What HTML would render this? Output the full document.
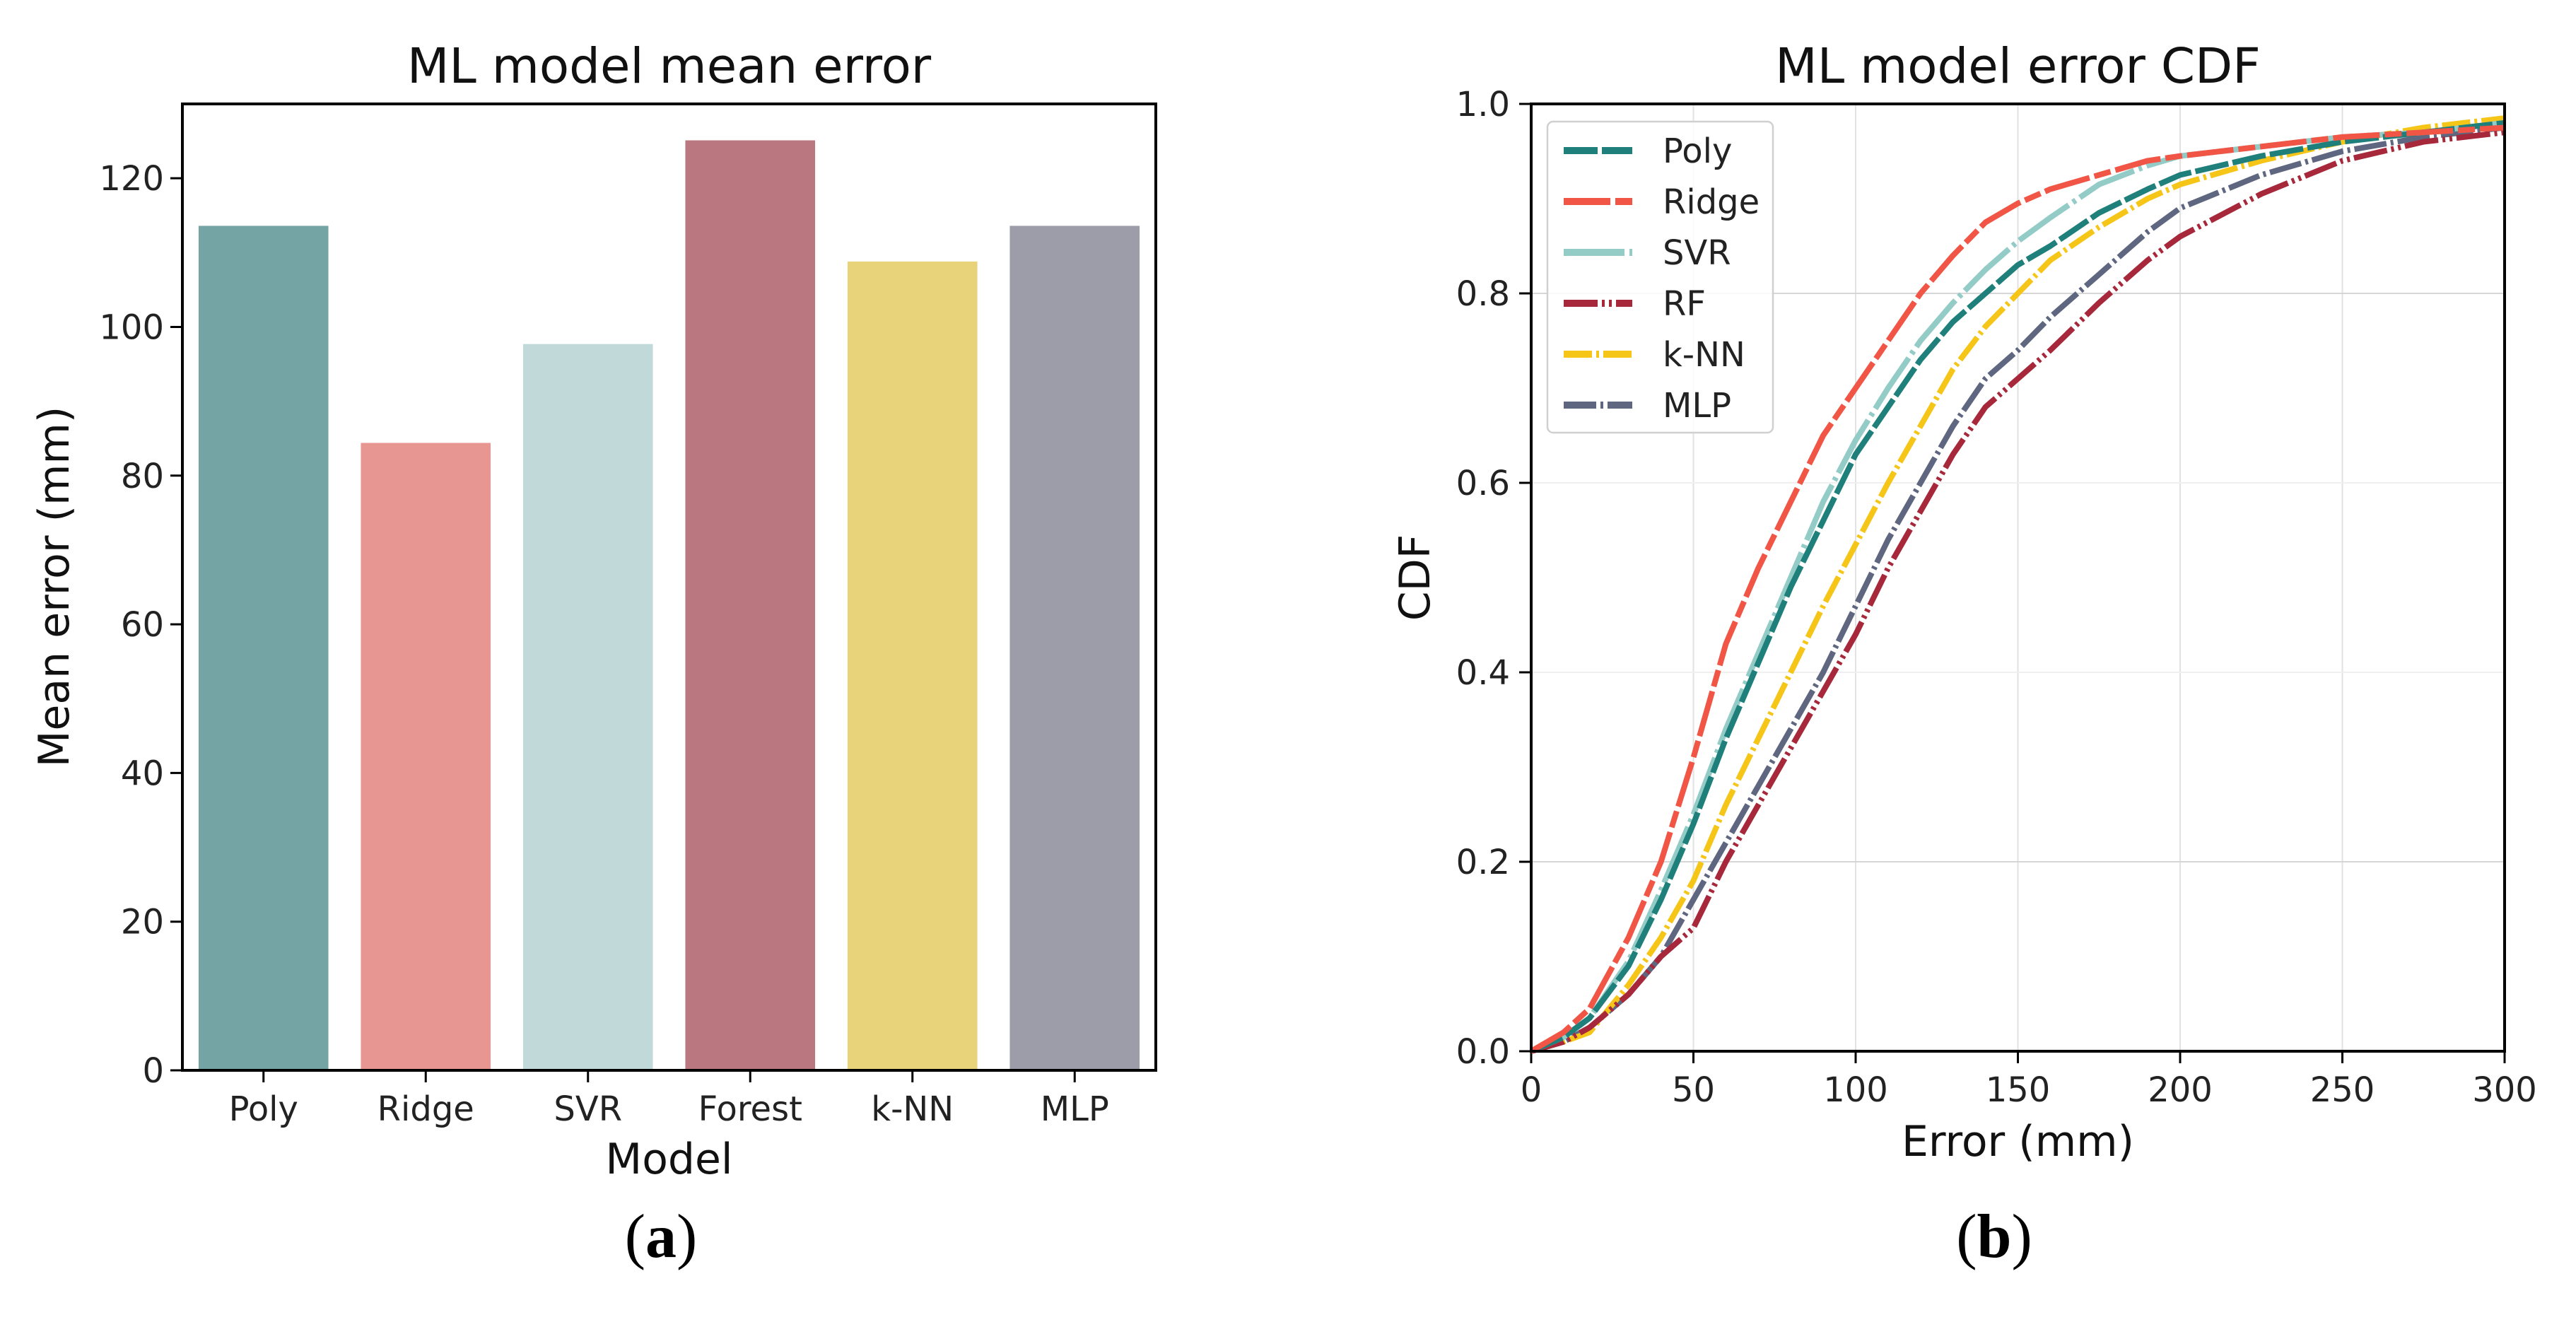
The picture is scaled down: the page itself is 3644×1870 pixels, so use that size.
<!DOCTYPE html>
<html><head><meta charset="utf-8">
<style>
html,body{margin:0;padding:0;background:#fff;}
svg{display:block;font-family:"DejaVu Sans","Liberation Sans",sans-serif;}
</style></head>
<body>
<svg id="fig" width="3644" height="1870" viewBox="0 0 3644 1870">
<g id="left"></g>
<g id="right"></g>
</svg>
<script>
// ---- bar chart data ----
const barCategories = ["Poly","Ridge","SVR","Forest","k-NN","MLP"];
const barValues = [113.6, 84.4, 97.7, 125.1, 108.8, 113.6];
const barColors = ["#74a5a4","#e89691","#c1dad9","#bb7780","#e8d27a","#9c9da8"];
const barYTicks = [0,20,40,60,80,100,120];

// ---- CDF data ----
const cdfSeriesNames = ["Poly","Ridge","SVR","RF","k-NN","MLP"];
const cdfX = [0,10,18,30,40,50,60,70,80,90,100,110,120,130,140,150,160,175,190,200,225,250,275,300];
const cdfPoly  = [0,0.015,0.035,0.09,0.16,0.24,0.33,0.41,0.49,0.56,0.63,0.68,0.73,0.77,0.80,0.83,0.85,0.885,0.91,0.925,0.945,0.96,0.97,0.98];
const cdfRidge = [0,0.02,0.045,0.12,0.20,0.31,0.43,0.51,0.58,0.65,0.70,0.75,0.80,0.84,0.875,0.895,0.91,0.925,0.94,0.945,0.955,0.965,0.97,0.975];
const cdfSVR   = [0,0.015,0.035,0.095,0.17,0.25,0.34,0.42,0.50,0.58,0.645,0.70,0.75,0.79,0.825,0.855,0.88,0.915,0.935,0.945,0.955,0.965,0.97,0.98];
const cdfRF    = [0,0.01,0.025,0.06,0.10,0.13,0.20,0.26,0.32,0.38,0.44,0.51,0.57,0.63,0.68,0.71,0.74,0.79,0.835,0.86,0.905,0.94,0.96,0.97];
const cdfKNN   = [0,0.01,0.02,0.07,0.12,0.18,0.26,0.33,0.40,0.47,0.535,0.60,0.66,0.72,0.765,0.80,0.835,0.87,0.90,0.915,0.94,0.96,0.975,0.985];
const cdfMLP   = [0,0.01,0.025,0.06,0.10,0.16,0.22,0.28,0.34,0.40,0.47,0.54,0.60,0.66,0.71,0.74,0.775,0.82,0.865,0.89,0.925,0.95,0.965,0.975];
const cdfXTicks = [0,50,100,150,200,250,300];
const cdfYTicks = [0.0,0.2,0.4,0.6,0.8,1.0];

const NS="http://www.w3.org/2000/svg";
function mk(parent,tag,attrs,text){const e=document.createElementNS(NS,tag);for(const k in attrs)e.setAttribute(k,attrs[k]);if(text!==undefined)e.textContent=text;parent.appendChild(e);return e;}

// ===== Left bar chart =====
(function(){
const g=document.getElementById('left');
const L=258,R=1635,T=147,B=1514,yMax=130;
const ys=v=>B-(v/yMax)*(B-T);
const band=(R-L)/barCategories.length;
barCategories.forEach((c,i)=>{
  const x0=L+band*i+band*0.1, w=band*0.8;
  const r=mk(g,'rect',{x:x0,y:ys(barValues[i]),width:w,height:B-ys(barValues[i]),fill:barColors[i]});
  
  
  const cx=L+band*(i+0.5);
  mk(g,'line',{x1:cx,x2:cx,y1:B,y2:B+17,stroke:'#000','stroke-width':3});
  const t=mk(g,'text',{x:cx,y:1585,'font-size':48,'text-anchor':'middle',fill:'#222'},c);
  
  
});
barYTicks.forEach(v=>{
  const y=ys(v);
  mk(g,'line',{x1:L-17,x2:L,y1:y,y2:y,stroke:'#000','stroke-width':3});
  const t=mk(g,'text',{x:L-26,y:y+17,'font-size':48,'text-anchor':'end',fill:'#222'},String(v));
  
  
});
const fr=mk(g,'rect',{x:L,y:T,width:R-L,height:B-T,fill:'none',stroke:'#000','stroke-width':4});


const tt=mk(g,'text',{x:(L+R)/2,y:117,'font-size':69,'text-anchor':'middle',fill:'#111'},'ML model mean error');


const xt=mk(g,'text',{x:(L+R)/2,y:1660,'font-size':60,'text-anchor':'middle',fill:'#111'},'Model');


const yt=mk(g,'text',{x:0,y:0,'font-size':60,'text-anchor':'middle',fill:'#111',transform:'translate(97,830) rotate(-90)'},'Mean error (mm)');


const cap=mk(g,'text',{x:935,y:1778,'font-size':88,'text-anchor':'middle',fill:'#000','font-family':'"Liberation Serif",serif'});
cap.innerHTML='(<tspan font-weight="bold">a</tspan>)';


})();

// ===== Right CDF chart =====
(function(){
const g=document.getElementById('right');
const L=2166,R=3543,T=147,B=1487;
const xs=v=>L+(v/300)*(R-L);
const ys=v=>B-v*(B-T);
cdfXTicks.forEach(v=>{
  const x=xs(v);
  if(v>0&&v<300) mk(g,'line',{x1:x,x2:x,y1:T,y2:B,stroke:'#e2e2e2','stroke-width':2});
  mk(g,'line',{x1:x,x2:x,y1:B,y2:B+17,stroke:'#000','stroke-width':3});
  const t=mk(g,'text',{x:x,y:1558,'font-size':48,'text-anchor':'middle',fill:'#222'},String(v));
  
  
});
cdfYTicks.forEach(v=>{
  const y=ys(v);
  if(v>0&&v<1) mk(g,'line',{x1:L,x2:R,y1:y,y2:y,stroke:(Math.abs(v-0.6)<1e-6||Math.abs(v-0.4)<1e-6)?'#f0f0f0':'#d6d6d6','stroke-width':2});
  mk(g,'line',{x1:L-17,x2:L,y1:y,y2:y,stroke:'#000','stroke-width':3});
  const t=mk(g,'text',{x:L-30,y:y+17,'font-size':48,'text-anchor':'end',fill:'#222'},v.toFixed(1));
  
  
});
const series=[cdfPoly,cdfRidge,cdfSVR,cdfRF,cdfKNN,cdfMLP];
const colors=["#1f7f7a","#f05545","#93cbc7","#a6283a","#f5c518","#5f6780"];
const dashes=["48,6","66,7,24,7","86,7,5,7","48,6,4,6,4,6","40,6,4,6","46,6,4,6"];
const order=[5,4,3,2,0,1];
order.forEach(i=>{
  const d=cdfX.map((x,k)=>(k?'L':'M')+xs(x).toFixed(1)+','+ys(series[i][k]).toFixed(1)).join(' ');
  const p=mk(g,'path',{d:d,fill:'none',stroke:colors[i],'stroke-width':8,'stroke-dasharray':dashes[i],'stroke-linejoin':'round'});
  
  
});
const fr=mk(g,'rect',{x:L,y:T,width:R-L,height:B-T,fill:'none',stroke:'#000','stroke-width':4});


// legend
const lg=mk(g,'g',{});


mk(lg,'rect',{x:2189,y:172,width:319,height:440,rx:8,fill:'#fff','fill-opacity':0.85,stroke:'#d0d0d0','stroke-width':2.5});
cdfSeriesNames.forEach((n,i)=>{
  const y=213+i*72;
  const e=mk(lg,'g',{});
  
  
  mk(e,'line',{x1:2212,x2:2309,y1:y,y2:y,stroke:colors[i],'stroke-width':10,'stroke-dasharray':dashes[i]});
  mk(e,'text',{x:2352,y:y+17,'font-size':48,fill:'#222'},n);
});
const tt=mk(g,'text',{x:(L+R)/2,y:117,'font-size':69,'text-anchor':'middle',fill:'#111'},'ML model error CDF');


const xt=mk(g,'text',{x:(L+R)/2,y:1635,'font-size':60,'text-anchor':'middle',fill:'#111'},'Error (mm)');


const yt=mk(g,'text',{x:0,y:0,'font-size':60,'text-anchor':'middle',fill:'#111',transform:'translate(2022,817) rotate(-90)'},'CDF');


const cap=mk(g,'text',{x:2821,y:1778,'font-size':88,'text-anchor':'middle',fill:'#000','font-family':'"Liberation Serif",serif'});
cap.innerHTML='(<tspan font-weight="bold">b</tspan>)';


})();
</script>
</body></html>
